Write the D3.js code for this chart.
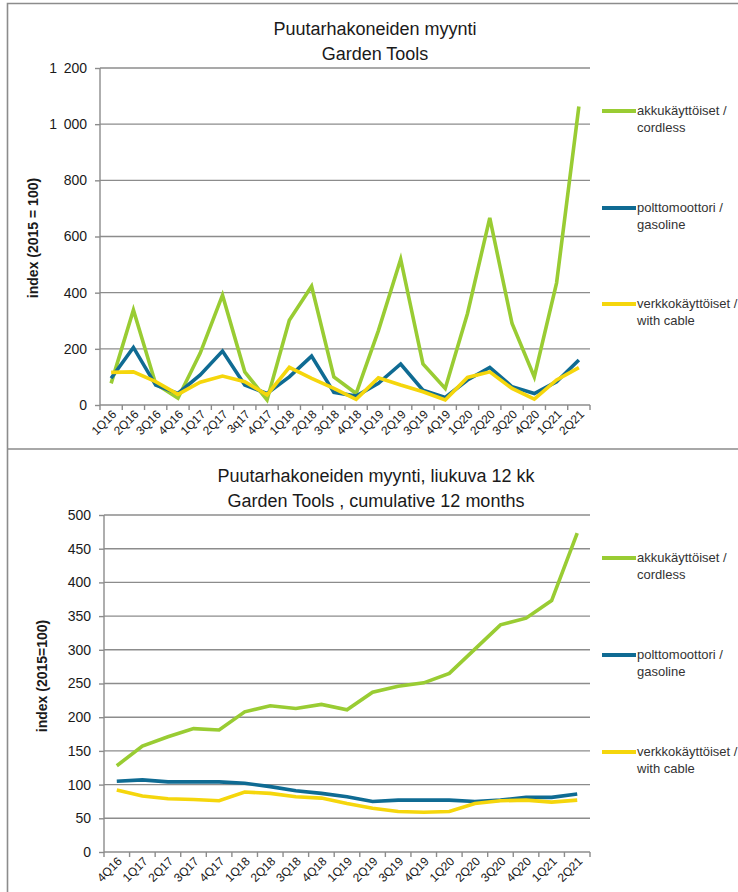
<!DOCTYPE html>
<html>
<head>
<meta charset="utf-8">
<script src="https://cdn.jsdelivr.net/npm/d3@7"></script>
<style>
  body { margin: 0; background: #fff; }
  svg { display: block; }
  text { font-family: "Liberation Sans", Arial, sans-serif; fill: #1a1a1a; }
  .tick text { font-size: 13px; }
  .grid line { stroke: #8c8c8c; stroke-width: 1.4; }
  .axis path, .axis line { stroke: #8c8c8c; stroke-width: 1.4; }
</style>
</head>
<body>
<svg id="chart" width="738" height="892"></svg>
<script>
// quarterly index, 2015 = 100
const quarters = ['1Q16', '2Q16', '3Q16', '4Q16', '1Q17', '2Q17', '3q17', '4Q17', '1Q18', '2Q18', '3Q18',
  '4Q18', '1Q19', '2Q19', '3Q19', '4Q19', '1Q20', '2Q20', '3Q20', '4Q20', '1Q21', '2Q21']
const cordless = [77, 338, 75, 24, 185, 391, 118, 18, 302, 423, 100, 41, 265, 519, 146, 59, 326, 666, 290, 100, 435, 1063]
const gasoline = [95, 205, 71, 41, 107, 192, 71, 41, 100, 174, 45, 32, 77, 146, 53, 27, 89, 134, 65, 41, 83, 160]
const cable = [116, 118, 83, 38, 81, 103, 83, 36, 134, 95, 59, 20, 97, 71, 47, 18, 98, 118, 59, 21, 89, 133]

// cumulative 12 months
const quartersCum = ['4Q16', '1Q17', '2Q17', '3Q17', '4Q17', '1Q18', '2Q18', '3Q18', '4Q18', '1Q19', '2Q19',
  '3Q19', '4Q19', '1Q20', '2Q20', '3Q20', '4Q20', '1Q21', '2Q21']
const cordlessCum = [128, 157, 171, 183, 181, 208, 217, 213, 219, 211, 237, 246, 251, 265, 301, 337, 347, 373, 473]
const gasolineCum = [105, 107, 104, 104, 104, 102, 97, 91, 87, 82, 75, 77, 77, 77, 75, 77, 81, 81, 86]
const cableCum = [92, 83, 79, 78, 76, 89, 87, 82, 80, 72, 65, 60, 59, 60, 72, 76, 77, 74, 77]

const seriesNames = [['akkukäyttöiset /', 'cordless'], ['polttomoottori /', 'gasoline'], ['verkkokäyttöiset /', 'with cable']]
const colors = ['#99cc33', '#0f6b93', '#f5d60c']

const svg = d3.select('#chart')

// panel frames
svg.append('path')
  .attr('d', 'M738,3.5 H7.5 V449 H738 M7.5,449 V892')
  .attr('fill', 'none')
  .attr('stroke', '#8c8c8c')
  .attr('stroke-width', 1.6)

function drawPanel (opt) {
  const g = svg.append('g')
  const x = d3.scaleBand().domain(opt.cats).range([opt.left, opt.right])
  const y = d3.scaleLinear().domain([0, opt.max]).range([opt.bottom, opt.top])

  g.append('g').attr('class', 'grid')
    .selectAll('line').data(opt.ticks.filter(d => d > 0)).join('line')
    .attr('x1', opt.left).attr('x2', opt.right)
    .attr('y1', d => y(d)).attr('y2', d => y(d))

  const yAxis = g.append('g').attr('class', 'axis')
    .attr('transform', `translate(${opt.left},0)`)
    .call(d3.axisLeft(y).tickValues(opt.ticks).tickSize(5).tickPadding(8).tickFormat(opt.fmt))
  yAxis.select('.domain').remove()
  yAxis.append('line').attr('y1', opt.top).attr('y2', opt.bottom)
  yAxis.selectAll('.tick text').style('font-size', '14px')

  // x axis with ticks at category boundaries
  const xa = g.append('g').attr('class', 'axis')
  xa.append('line').attr('x1', opt.left).attr('x2', opt.right).attr('y1', opt.bottom).attr('y2', opt.bottom)
  xa.selectAll('.bt').data(d3.range(opt.cats.length + 1)).join('line')
    .attr('class', 'bt')
    .attr('x1', i => opt.left + i * x.bandwidth()).attr('x2', i => opt.left + i * x.bandwidth())
    .attr('y1', opt.bottom).attr('y2', opt.bottom + 5)
  xa.selectAll('text').data(opt.cats).join('text')
    .attr('text-anchor', 'end')
    .attr('transform', d => `translate(${x(d) + x.bandwidth() / 2 + 6},${opt.bottom + 10}) rotate(-45)`)
    .style('font-size', '12px')
    .text(d => d)

  const line = d3.line()
    .x((d, i) => x(opt.cats[i]) + x.bandwidth() / 2)
    .y(d => y(d))

  opt.series.forEach((s, k) => {
    g.append('path').datum(s)
      .attr('fill', 'none')
      .attr('stroke', colors[k])
      .attr('stroke-width', 3.6)
      .attr('stroke-linejoin', 'miter')
      .attr('d', line)
  })

  // titles
  opt.title.forEach((t, i) => {
    g.append('text').attr('x', opt.titleX).attr('y', opt.titleY + i * 25)
      .attr('text-anchor', 'middle').style('font-size', '18px').text(t)
  })

  g.append('text')
    .attr('transform', `translate(${opt.ylabX},${opt.ylabY}) rotate(-90)`)
    .attr('text-anchor', 'middle')
    .style('font-size', '14px').style('font-weight', 'bold')
    .text(opt.ylab)

  // legend
  opt.legendY.forEach((ly, k) => {
    g.append('line').attr('x1', 602).attr('x2', 636).attr('y1', ly - 4).attr('y2', ly - 4)
      .attr('stroke', colors[k]).attr('stroke-width', 4)
    seriesNames[k].forEach((n, j) => {
      g.append('text').attr('x', 637).attr('y', ly + j * 17).style('font-size', '13px').style('fill', '#333').text(n)
    })
  })
}

drawPanel({
  cats: quarters,
  series: [cordless, gasoline, cable],
  left: 100, right: 590, top: 68, bottom: 405, max: 1200,
  ticks: [0, 200, 400, 600, 800, 1000, 1200],
  fmt: d => d >= 1000 ? d3.format(',')(d).replace(',', '\u2009 ') : d,
  title: ['Puutarhakoneiden myynti', 'Garden Tools'],
  titleX: 375, titleY: 35,
  ylab: 'index (2015 = 100)', ylabX: 38, ylabY: 238,
  legendY: [115, 212, 308]
})

drawPanel({
  cats: quartersCum,
  series: [cordlessCum, gasolineCum, cableCum],
  left: 104, right: 590, top: 515, bottom: 852, max: 500,
  ticks: [0, 50, 100, 150, 200, 250, 300, 350, 400, 450, 500],
  fmt: d => d,
  title: ['Puutarhakoneiden myynti, liukuva 12 kk', 'Garden Tools , cumulative 12 months'],
  titleX: 376, titleY: 482,
  ylab: 'index (2015=100)', ylabX: 47, ylabY: 676,
  legendY: [562, 659, 756]
})
</script>
</body>
</html>
